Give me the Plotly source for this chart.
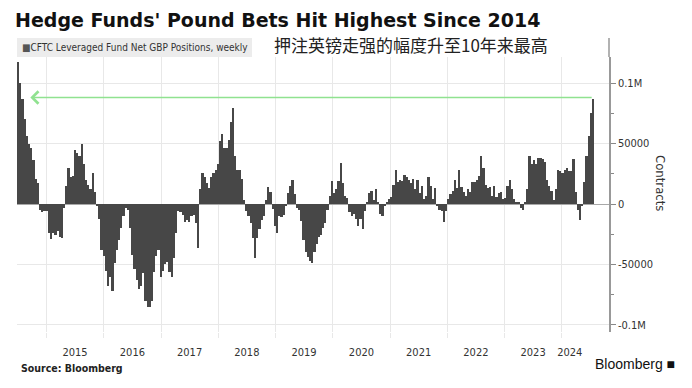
import pandas as pd
import plotly.graph_objects as go

# ---- data (biweekly readings of CFTC leveraged-fund net GBP positions, contracts) ----
v2014 = [117000, 100000, 87000, 70000, 56000, 50000, 46000, 36000, 21000, 17000, -5000, -7000, -6000]
v2015 = [-6000, -24000, -29000, -24000, -26000, -22000, -27000, -28000, -3000, 15000, 30000, 22000, 23000,
         45000, 42000, 40000, 50000, 33000, 20000, 16000, 12000, 26000, 10000, -1000, -12000, -38000]
v2016 = [-43000, -55000, -68000, -60000, -72000, -49000, -38000, -30000, -20000, -10000, -3000, -5000, -20000,
         -42000, -54000, -63000, -70000, -68000, -57000, -80000, -85000, -85000, -80000, -56000, -43000, -38000]
v2017 = [-60000, -55000, -50000, -48000, -56000, -60000, -45000, -24000, -6000, -7000, -9000, -15000, -13000,
         -15000, -10000, -9000, -16000, -36000, 12000, 26000, 22000, 17000, 13000, 22000, 25800, 28000]
v2018 = [33000, 52000, 58000, 46000, 46000, 53000, 68000, 79000, 40000, 28000, 28000, 21000, 3000,
         -6000, -10000, -16000, -28000, -45000, -28000, -21000, -13000, -10000, 3000, 14000, 10000, -4000]
v2019 = [-18000, -24000, -10000, -11000, -9000, -2000, 9000, 15000, 20000, 8000, -3000, -5000, -14000,
         -30000, -40000, -44000, -47000, -49000, -40000, -33000, -27000, -26000, -20000, -16000, -5000, 7000]
v2020 = [19000, 9000, 12000, 19000, 34000, 17000, 7000, 5000, -7000, -10000, -8000, -12000, -18000,
         -12000, -21000, -6000, 1000, 9000, 11000, 3000, 12000, 2000, -8000, -10000, -2000, 2000]
v2021 = [4000, 6000, 16000, 28000, 18000, 20000, 19000, 24000, 22000, 20000, 17000, 21000, 12000,
         20000, 9000, 15000, 4000, 7000, 22000, 15000, 4000, 13000, -2000, -5000, -6000, -15000]
v2022 = [-6000, 4000, 8000, 11000, 20000, 13000, 28000, 14000, 10000, 7000, 12000, 10000, 18000,
         18000, 20000, 23000, 40000, 30000, 16000, 13000, 14000, 7000, 15000, 6000, 9000, 10000]
v2023 = [4000, 5000, 15000, 20000, 12000, 4000, 1000, 2000, -3000, -5000, 1000, 12000, 40000,
         33000, 36000, 33000, 38000, 38000, 37000, 35000, 20000, 15000, 11000, 3000, 12000, 28000]
v2024 = [27000, 26000, 28000, 30000, 27000, 27000, 37000, 10000, -5000, -13000, -2000, 18000, 40000,
         56000, 75000, 87000]

values = v2014 + v2015 + v2016 + v2017 + v2018 + v2019 + v2020 + v2021 + v2022 + v2023 + v2024
dates = pd.date_range("2014-07-04", periods=len(values), freq="14D")

year_labels = ["2015", "2016", "2017", "2018", "2019", "2020", "2021", "2022", "2023", "2024"]
year_label_pos = ["2015-07-02", "2016-07-02", "2017-07-02", "2018-07-02", "2019-07-02",
                  "2020-07-02", "2021-07-02", "2022-07-02", "2023-07-02", "2024-02-21"]
year_starts = [f"{y}-01-01" for y in year_labels]

y_tickvals = [-100000, -50000, 0, 50000, 100000]
y_ticktext = ["-0.1M", "-50000", "0", "50000", "0.1M"]

# page body has an 8px margin: figure pixel = window pixel - 8
OFF = 8
W, H = 692 - OFF, 388 - OFF
L, R, T, B = 17, 609, 57, 332   # plot area in window pixels


def px(x):
    return (x - L) / (R - L)


def py(y):
    return (B - y) / (B - T)


COND = "DejaVu Sans Condensed, Liberation Sans Narrow, Roboto Condensed, Arial Narrow, Liberation Sans, sans-serif"

fig = go.Figure()
fig.add_trace(go.Bar(
    x=dates, y=values,
    width=14 * 86400000,
    marker=dict(color="#474747", line=dict(width=0)),
    showlegend=False,
))

fig.update_layout(
    width=W, height=H,
    margin=dict(l=L - OFF, r=W - (R - OFF), t=T - OFF, b=H - (B - OFF), autoexpand=False),
    paper_bgcolor="white", plot_bgcolor="white",
    bargap=0,
    font=dict(family=COND, size=11, color="#333333"),
    xaxis=dict(
        type="date",
        range=["2014-06-27", "2024-10-28"],
        tickmode="array", tickvals=year_label_pos, ticktext=year_labels,
        showgrid=False, ticks="", ticklabelstandoff=12,
        tickfont=dict(size=11, color="#333333"),
        zeroline=False, showline=False,
        minor=dict(tickmode="array", tickvals=year_starts, showgrid=True,
                   gridcolor="#e8e8e8", gridwidth=1,
                   ticks="outside", ticklen=5, tickcolor="#e8e8e8", tickwidth=1),
    ),
    yaxis=dict(
        side="right",
        range=[-105800, 121500],
        tickmode="array", tickvals=y_tickvals, ticktext=y_ticktext,
        ticks="outside", ticklen=5, tickcolor="#888888", tickwidth=1,
        showline=True, linecolor="#999999", linewidth=1.5,
        showgrid=True, gridcolor="#e8e8e8", gridwidth=1,
        zeroline=True, zerolinecolor="#a8a8a8", zerolinewidth=1,
        tickfont=dict(size=11, color="#333333"),
        minor=dict(dtick=25000, tick0=0, ticks="outside", ticklen=3,
                   tickcolor="#888888", showgrid=False),
    ),
)

shapes = [
    dict(type="rect", xref="paper", yref="paper", x0=px(17), x1=px(252), y0=py(57), y1=py(38),
         fillcolor="#ececec", line=dict(width=0), layer="above"),
    dict(type="line", xref="paper", yref="paper", x0=1, x1=1, y0=1, y1=py(38),
         line=dict(color="#999999", width=1.5)),
]
fig.update_layout(shapes=shapes)

P = dict(xref="paper", yref="paper", showarrow=False)
ann = [
    dict(text="<b>Hedge Funds' Pound Bets Hit Highest Since 2014</b>", x=px(13), y=py(20),
         xanchor="left", yanchor="middle",
         font=dict(family="DejaVu Sans, Verdana, sans-serif", size=19, color="#111111"), **P),
    dict(text="<span style='color:#555'>■</span>CFTC Leveraged Fund Net GBP Positions, weekly",
         x=px(20), y=py(47.5), xanchor="left", yanchor="middle",
         font=dict(family=COND, size=10, color="#333333"), **P),
    dict(text="押注英镑走强的幅度升至10年来最高", x=px(272), y=py(45),
         xanchor="left", yanchor="middle",
         font=dict(family="Noto Sans CJK SC", size=17, color="#222222"), **P),
    dict(text="Contracts", x=px(661), y=py(183), xanchor="center", yanchor="middle",
         textangle=90, font=dict(family=COND, size=13, color="#333333"), **P),
    dict(text="<b>Source: Bloomberg</b>", x=px(19), y=py(368), xanchor="left", yanchor="middle",
         font=dict(family=COND, size=10.5, color="#222222"), **P),
    dict(text="Bloomberg ■", x=px(677), y=py(364), xanchor="right", yanchor="middle",
         font=dict(family="Liberation Sans, Arial, sans-serif", size=14, color="#111111"), **P),
    dict(x="2014-09-20", y=values[-1] + 1000, xref="x", yref="y",
         ax=dates[-1], ay=values[-1] + 1000, axref="x", ayref="y",
         text="", showarrow=True, arrowhead=4, arrowsize=1.6, arrowwidth=1.5,
         arrowcolor="#90e290", standoff=0),
]
fig.update_layout(annotations=ann)

fig.write_html("out.html")
